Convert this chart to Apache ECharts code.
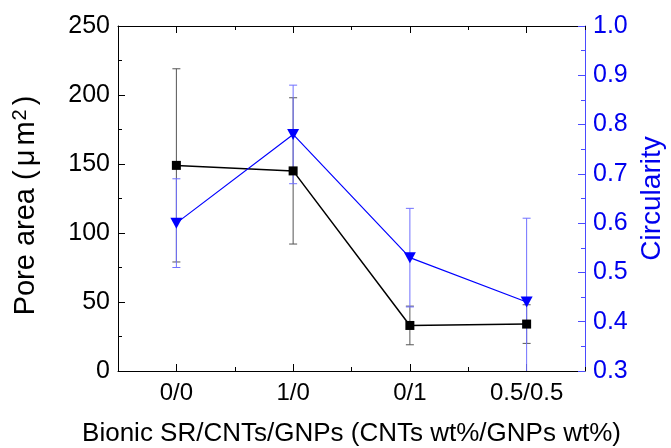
<!DOCTYPE html>
<html>
<head>
<meta charset="utf-8">
<script src="https://cdn.jsdelivr.net/npm/echarts@6/dist/echarts.min.js"></script>
<style>html,body{margin:0;padding:0;background:#fff;}#c{width:671px;height:448px;}</style>
</head>
<body>
<div id="c"></div>
<script>
const categories = ['0/0', '1/0', '0/1', '0.5/0.5'];
const poreArea = [149, 145, 33, 34];
const poreAreaErr = [70, 53, 14, 14];
const circularity = [0.60, 0.78, 0.53, 0.44];
const circularityErr = [0.09, 0.10, 0.10, 0.17];
const leftTicks = {min: 0, max: 250, interval: 50};
const rightTicks = {min: 0.3, max: 1.0, interval: 0.1};

const FONT = "Arial, 'Liberation Sans', sans-serif";
const BLUE = '#0000ff';

function errorSeries(values, errs, yAxisIndex, color, z) {
  return {
    type: 'custom',
    xAxisIndex: 0,
    yAxisIndex: yAxisIndex,
    clip: true,
    z: z,
    silent: true,
    data: values.map((v, i) => [i, v - errs[i], v + errs[i]]),
    renderItem: function (params, api) {
      const lo = api.coord([api.value(0), api.value(1)]);
      const hi = api.coord([api.value(0), api.value(2)]);
      const w = 4;
      const style = {stroke: color, lineWidth: 1};
      return {
        type: 'group',
        children: [
          {type: 'line', shape: {x1: lo[0], y1: lo[1], x2: hi[0], y2: hi[1]}, style: style},
          {type: 'line', shape: {x1: lo[0] - w, y1: lo[1], x2: lo[0] + w, y2: lo[1]}, style: style},
          {type: 'line', shape: {x1: hi[0] - w, y1: hi[1], x2: hi[0] + w, y2: hi[1]}, style: style}
        ]
      };
    }
  };
}

const chart = echarts.init(document.getElementById('c'), null, {renderer: 'canvas'});
const catAxisBase = {
  type: 'category',
  data: categories,
  boundaryGap: true,
  axisLine: {show: true, onZero: false, lineStyle: {color: '#000', width: 1}},
  splitLine: {show: false}
};
chart.setOption({
  animation: false,
  backgroundColor: '#fff',
  grid: {left: 118, right: 86, top: 26, bottom: 77, containLabel: false, outerBoundsMode: 'none'},
  xAxis: [
    Object.assign({}, catAxisBase, {
      position: 'bottom',
      axisTick: {show: true, inside: true, alignWithLabel: true, length: 7, lineStyle: {color: '#000'}},
      axisLabel: {show: true, margin: 10, fontSize: 24, color: '#000', fontFamily: FONT},
      name: 'Bionic SR/CNTs/GNPs (CNTs wt%/GNPs wt%)',
      nameLocation: 'middle',
      nameGap: 50,
      nameTextStyle: {fontSize: 26, color: '#000', fontFamily: FONT}
    }),
    Object.assign({}, catAxisBase, {
      position: 'bottom',
      axisLine: {show: false},
      axisTick: {show: true, inside: true, length: 4, lineStyle: {color: '#000'}},
      axisLabel: {show: false}
    }),
    Object.assign({}, catAxisBase, {
      position: 'top',
      axisTick: {show: true, inside: true, alignWithLabel: true, length: 7, lineStyle: {color: '#000'}},
      axisLabel: {show: false}
    }),
    Object.assign({}, catAxisBase, {
      position: 'top',
      axisLine: {show: false},
      axisTick: {show: true, inside: true, length: 4, lineStyle: {color: '#000'}},
      axisLabel: {show: false}
    })
  ],
  yAxis: [
    {
      type: 'value',
      position: 'left',
      min: leftTicks.min, max: leftTicks.max, interval: leftTicks.interval,
      axisLine: {show: true, lineStyle: {color: '#000'}},
      axisTick: {show: true, inside: true, length: 7, lineStyle: {color: '#000'}},
      minorTick: {show: true, splitNumber: 2, length: 4, lineStyle: {color: '#000'}},
      splitLine: {show: false},
      minorSplitLine: {show: false},
      axisLabel: {margin: 8, fontSize: 25, color: '#000', fontFamily: FONT},
      name: '{t|Pore area (}{mu|μ}{t|m}{s|2}{e|)}',
      nameLocation: 'middle',
      nameGap: 76,
      nameTextStyle: {
        rich: {
          t: {fontSize: 29, color: '#000', fontFamily: FONT},
          mu: {fontSize: 29, color: '#000', fontFamily: FONT, padding: [0, 4, 0, 4]},
          s: {fontSize: 20, color: '#000', fontFamily: FONT, verticalAlign: 'top', padding: [0, 4, 12, 1]},
          e: {fontSize: 29, color: '#000', fontFamily: FONT, padding: [0, 14, 0, 0]}
        }
      }
    },
    {
      type: 'value',
      position: 'right',
      min: rightTicks.min, max: rightTicks.max, interval: rightTicks.interval,
      axisLine: {show: true, lineStyle: {color: '#4a4aff'}},
      axisTick: {show: true, inside: true, length: 7, lineStyle: {color: '#4a4aff'}},
      minorTick: {show: true, splitNumber: 2, length: 4, lineStyle: {color: '#4a4aff'}},
      splitLine: {show: false},
      minorSplitLine: {show: false},
      axisLabel: {margin: 8, fontSize: 25, color: '#0000ee', fontFamily: FONT,
        formatter: v => v.toFixed(1)},
      name: 'Circularity',
      nameLocation: 'middle',
      nameGap: 53,
      nameTextStyle: {fontSize: 28, color: '#0000ee', fontFamily: FONT}
    }
  ],
  series: [
    errorSeries(poreArea, poreAreaErr, 0, '#555555', 2),
    errorSeries(circularity, circularityErr, 1, '#7070ff', 2),
    {
      type: 'line',
      name: 'Pore area',
      xAxisIndex: 0, yAxisIndex: 0,
      data: poreArea,
      symbol: 'rect', symbolSize: 9,
      lineStyle: {color: '#000', width: 1.5},
      itemStyle: {color: '#000'},
      z: 3
    },
    {
      type: 'line',
      name: 'Circularity',
      xAxisIndex: 0, yAxisIndex: 1,
      data: circularity,
      symbol: 'triangle', symbolSize: [12, 11], symbolRotate: 180,
      lineStyle: {color: BLUE, width: 1.2},
      itemStyle: {color: BLUE},
      z: 4
    }
  ]
});
</script>
</body>
</html>
